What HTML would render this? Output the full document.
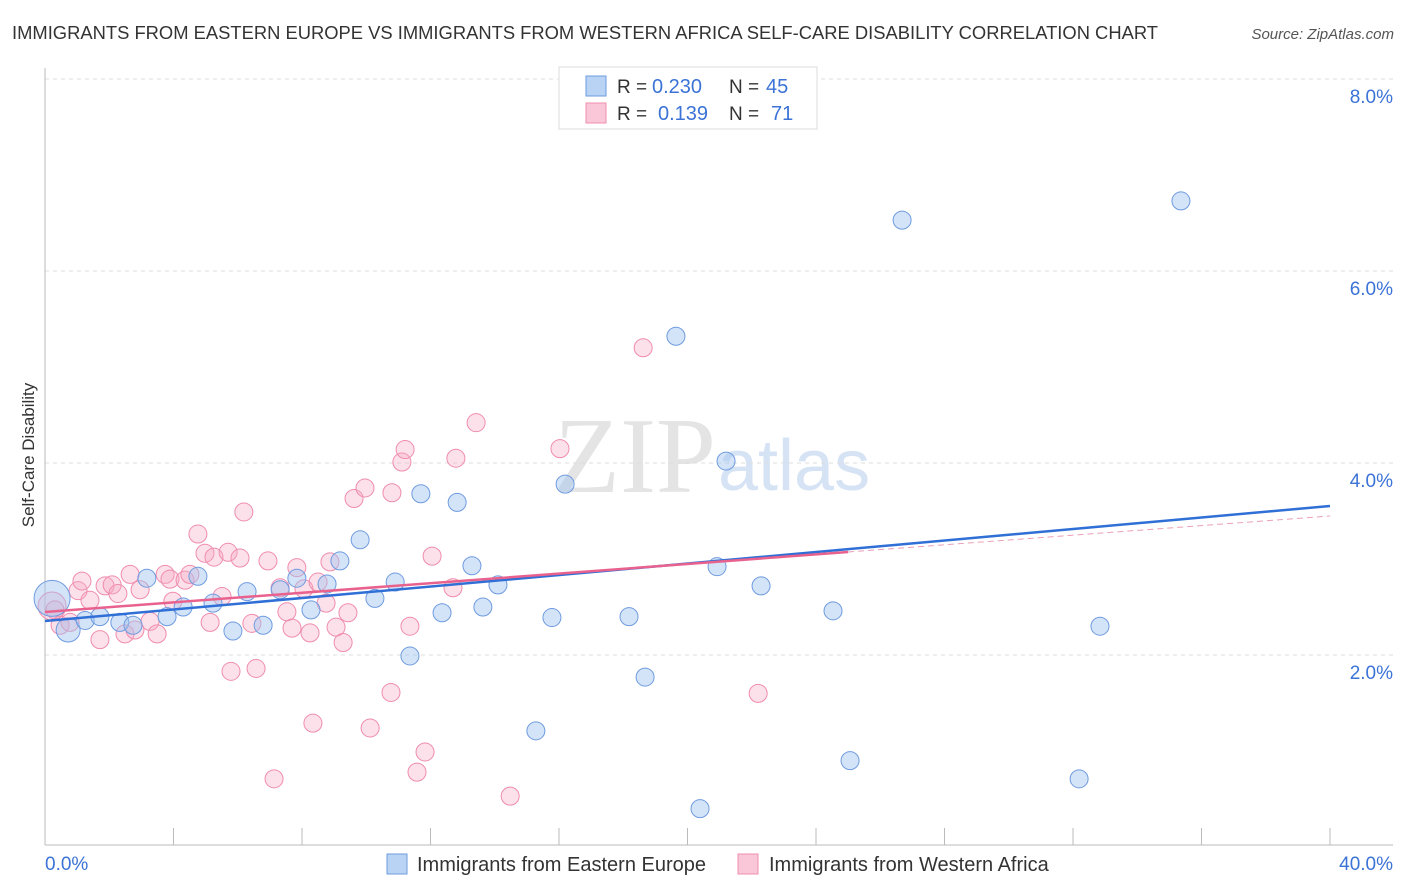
<!DOCTYPE html>
<html><head><meta charset="utf-8"><style>
body{margin:0;background:#fff;font-family:"Liberation Sans",sans-serif;}
svg{display:block}
</style></head><body>
<svg id="chart" width="1406" height="892">
<text x="12" y="39" font-size="18" fill="#333" textLength="1146" lengthAdjust="spacingAndGlyphs">IMMIGRANTS FROM EASTERN EUROPE VS IMMIGRANTS FROM WESTERN AFRICA SELF-CARE DISABILITY CORRELATION CHART</text>
<text x="1394" y="39" font-size="15" fill="#555" font-style="italic" text-anchor="end">Source: ZipAtlas.com</text>
<text x="716" y="492" font-size="108" fill="#e4e4e4" text-anchor="end" font-family="Liberation Serif">ZIP</text>
<text x="718" y="490" font-size="72" fill="#d6e3f5">atlas</text>
<g id="grid"></g><g id="pts"></g><g id="lines"></g>
<text transform="translate(34,455) rotate(-90)" font-size="17" fill="#333" text-anchor="middle">Self-Care Disability</text>
<g>
<rect x="559" y="67" width="258" height="62" fill="#fff" stroke="#ddd"/>
<rect x="586" y="76" width="20" height="20" fill="#b9d3f5" stroke="#6f9be0"/>
<rect x="586" y="103" width="20" height="20" fill="#fac7d8" stroke="#f08cae"/>
<text x="617" y="93" font-size="19" fill="#333">R =</text>
<text x="652" y="93" font-size="20" fill="#3b73d6">0.230</text>
<text x="729" y="93" font-size="19" fill="#333">N =</text>
<text x="766" y="93" font-size="20" fill="#3b73d6">45</text>
<text x="617" y="120" font-size="19" fill="#333">R =</text>
<text x="658" y="120" font-size="20" fill="#3b73d6">0.139</text>
<text x="729" y="120" font-size="19" fill="#333">N =</text>
<text x="771" y="120" font-size="20" fill="#3b73d6">71</text>
</g>
<g>
<rect x="387" y="854" width="20" height="20" fill="#b9d3f5" stroke="#6f9be0"/>
<text x="417" y="871" font-size="20" fill="#333">Immigrants from Eastern Europe</text>
<rect x="738" y="854" width="20" height="20" fill="#fac7d8" stroke="#f08cae"/>
<text x="769" y="871" font-size="20" fill="#333">Immigrants from Western Africa</text>
</g>
</svg>
<script>
const yTicks=[2,4,6,8];
const xTickLabels=["0.0%","40.0%"];
const blueX=[0.22,0.72,1.25,1.71,2.33,2.74,3.17,3.80,4.30,4.76,5.23,5.85,6.29,6.79,7.32,7.84,8.28,8.78,9.18,9.81,10.27,10.90,11.36,11.70,12.36,12.83,13.29,13.63,14.10,15.28,15.78,16.19,18.18,18.68,19.64,20.39,20.92,21.20,22.29,24.53,25.06,26.68,32.19,32.84,35.36];
const blueY=[2.59,2.26,2.36,2.40,2.34,2.31,2.80,2.40,2.50,2.82,2.54,2.25,2.66,2.31,2.68,2.80,2.47,2.74,2.98,3.20,2.59,2.76,1.99,3.68,2.44,3.59,2.93,2.50,2.73,1.21,2.39,3.78,2.40,1.77,5.32,0.40,2.92,4.02,2.72,2.46,0.90,6.53,0.71,2.30,6.73];
const pinkX=[0.22,0.31,0.47,0.78,1.03,1.15,1.40,1.71,1.87,2.09,2.27,2.49,2.65,2.80,2.96,3.27,3.49,3.74,3.89,3.98,4.36,4.51,4.76,4.98,5.14,5.26,5.51,5.70,5.79,6.07,6.19,6.44,6.57,6.94,7.13,7.32,7.53,7.69,7.84,8.06,8.25,8.34,8.50,8.75,8.87,9.06,9.28,9.43,9.62,9.96,10.12,10.77,10.80,11.11,11.21,11.36,11.58,11.83,12.05,12.70,12.79,13.42,14.48,16.03,18.62,22.20];
const pinkY=[2.51,2.47,2.31,2.34,2.67,2.77,2.57,2.16,2.72,2.73,2.64,2.22,2.84,2.26,2.68,2.35,2.22,2.84,2.79,2.56,2.78,2.84,3.26,3.06,2.34,3.02,2.61,3.07,1.83,3.01,3.49,2.33,1.86,2.98,0.71,2.70,2.45,2.28,2.91,2.69,2.23,1.29,2.76,2.54,2.97,2.29,2.13,2.44,3.63,3.74,1.24,1.61,3.69,4.01,4.14,2.30,0.78,0.99,3.03,2.70,4.05,4.42,0.53,4.15,5.20,1.60];
const blueTrend=[2.354,3.552];
const pinkTrend=[2.448,3.448];
const pinkSolidEnd=25;
const NS="http://www.w3.org/2000/svg";
const X=v=>45+v/40*1285, Y=v=>847-v*96;
function mk(t,a,p){const e=document.createElementNS(NS,t);for(const k in a)e.setAttribute(k,a[k]);p.appendChild(e);return e;}
const g=document.getElementById('grid');
yTicks.forEach(t=>{
 const l=mk('line',{x1:45,x2:1393,y1:Y(t),y2:Y(t),stroke:'#ddd','stroke-dasharray':'4,4'},g);
 
 
 const tx=mk('text',{x:1393,y:Y(t)+24,'font-size':19,fill:'#3b73d6','text-anchor':'end'},g);
 tx.textContent=t.toFixed(1)+'%';
 
 
});
const ax=mk('line',{x1:45,x2:45,y1:68,y2:845,stroke:'#bbb'},g);


const bx=mk('line',{x1:45,x2:1393,y1:845,y2:845,stroke:'#bbb'},g);


for(let i=0;i<=10;i++){const t=mk('line',{x1:X(i*4),x2:X(i*4),y1:828,y2:845,stroke:'#bbb'},g);
 
 }
const xl0=mk('text',{x:45,y:870,'font-size':19,fill:'#3b73d6'},g);xl0.textContent=xTickLabels[0];


const xl1=mk('text',{x:1393,y:870,'font-size':19,fill:'#3b73d6','text-anchor':'end'},g);xl1.textContent=xTickLabels[1];


const p=document.getElementById('pts');
pinkX.forEach((x,i)=>{const c=mk('circle',{cx:X(x),cy:Y(pinkY[i]),r:i===0?14:9,fill:'rgba(246,170,196,0.35)',stroke:'#f08cae','stroke-width':1},p);
 
 });
blueX.forEach((x,i)=>{const c=mk('circle',{cx:X(x),cy:Y(blueY[i]),r:i===0?18:(i===1?12:9),fill:'rgba(160,196,240,0.45)',stroke:'#6f9be0','stroke-width':1},p);
 
 });
const L=document.getElementById('lines');
const b=mk('line',{x1:X(0),y1:Y(blueTrend[0]),x2:X(40),y2:Y(blueTrend[1]),stroke:'#2f6fd6','stroke-width':2.5},L);


const pm=pinkTrend[0]+(pinkTrend[1]-pinkTrend[0])*pinkSolidEnd/40;
const ps=mk('line',{x1:X(0),y1:Y(pinkTrend[0]),x2:X(pinkSolidEnd),y2:Y(pm),stroke:'#e9628e','stroke-width':2.5},L);


const pd=mk('line',{x1:X(pinkSolidEnd),y1:Y(pm),x2:X(40),y2:Y(pinkTrend[1]),stroke:'#e9a0b8','stroke-width':1,'stroke-dasharray':'6,4'},L);


</script>
</body></html>
